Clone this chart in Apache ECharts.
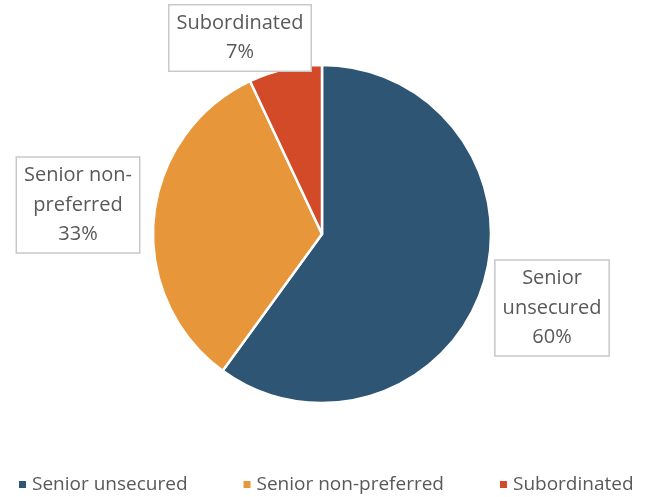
<!DOCTYPE html>
<html>
<head>
<meta charset="utf-8">
<script src="https://cdn.jsdelivr.net/npm/echarts@6/dist/echarts.min.js"></script>
<style>
  html, body { margin: 0; padding: 0; background: #fff; }
  #chart { width: 645px; height: 497px; }
</style>
</head>
<body>
<div id="chart"></div>
<script>
const categories = ['Senior unsecured', 'Senior non-preferred', 'Subordinated']
const labelTexts = ['Senior\nunsecured', 'Senior non-\npreferred', 'Subordinated']
const shares = [60, 33, 7]
const colors = ['#2E5573', '#E8963A', '#D24A27']

// where each callout box sits (centre)
const labelSpots = [[552, 308], [78, 205], [240, 38]]

const chart = echarts.init(document.getElementById('chart'))
const font = '"Open Sans", sans-serif'

chart.setOption({
  animation: false,
  color: colors,
  legend: {
    bottom: 3,
    left: 17,
    width: 640,
    padding: 0,
    itemWidth: 9,
    itemHeight: 9,
    itemGap: 54,
    icon: 'rect',
    textStyle: { color: '#595959', fontSize: 19, fontFamily: font },
    data: categories,
  },
  series: [{
    type: 'pie',
    center: [322, 234],
    radius: 169,
    startAngle: 90,
    clockwise: true,
    avoidLabelOverlap: false,
    itemStyle: { borderColor: '#fff', borderWidth: 2.5 },
    labelLine: { show: false },
    label: {
      show: true,
      position: 'outside',
      overflow: 'none',
      formatter: (p) => `${labelTexts[p.dataIndex]}\n${p.value}%`,
      color: '#595959',
      fontFamily: font,
      fontSize: 20,
      lineHeight: 29.5,
      align: 'center',
      backgroundColor: '#fff',
      borderColor: '#c8c8c8',
      borderWidth: 1.5,
      padding: [4, 7, 2, 7],
    },
    labelLayout: (p) => ({
      x: labelSpots[p.dataIndex][0],
      y: labelSpots[p.dataIndex][1],
      align: 'center',
      verticalAlign: 'middle',
    }),
    data: categories.map((name, i) => ({ name, value: shares[i] })),
  }],
})
</script>
</body>
</html>
